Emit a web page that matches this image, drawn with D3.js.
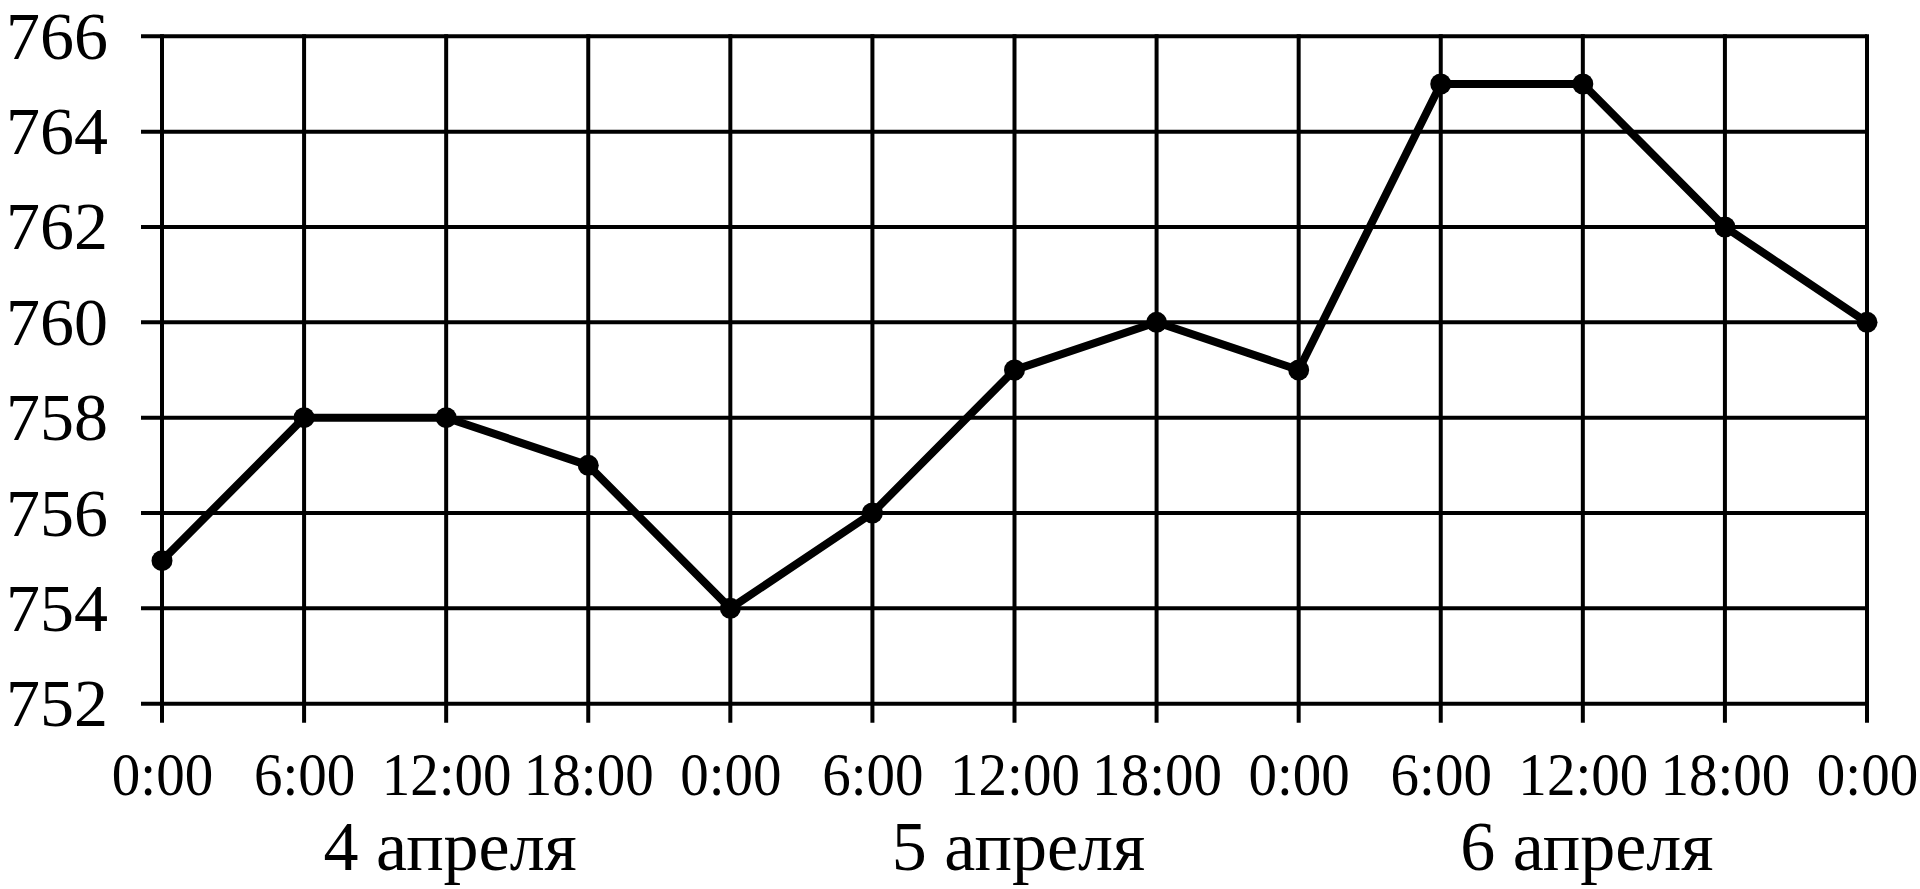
<!DOCTYPE html>
<html>
<head>
<meta charset="utf-8">
<script src="https://cdn.jsdelivr.net/npm/d3@7"></script>
<style>
  html, body { margin: 0; padding: 0; background: #fff; }
  svg { display: block; }
</style>
</head>
<body>
<svg id="chart" width="1920" height="889"></svg>
<script>
// ---- Dados
const timeLabels = ['0:00', '6:00', '12:00', '18:00', '0:00', '6:00', '12:00', '18:00', '0:00', '6:00', '12:00', '18:00', '0:00'];
const pressure   = [755, 758, 758, 757, 754, 756, 759, 760, 759, 765, 765, 762, 760];
const yTicks     = [752, 754, 756, 758, 760, 762, 764, 766];
const days       = ['4 апреля', '5 апреля', '6 апреля'];
const dayCenters = [2, 6, 10]; // 12:00 de cada dia

const svg = d3.select('#chart');
const font = '"Liberation Serif", "Times New Roman", serif';

// ---- Escalas
const x = d3.scaleLinear().domain([0, timeLabels.length - 1]).range([162, 1867]);
const y = d3.scaleLinear().domain([752, 766]).range([703.7, 36.3]);

// ---- Grade
svg.append('g')
    .selectAll('line')
    .data(yTicks)
    .join('line')
    .attr('x1', 141)
    .attr('x2', x.range()[1])
    .attr('y1', d => y(d))
    .attr('y2', d => y(d))
    .attr('stroke', '#000')
    .attr('stroke-width', 4);

svg.append('g')
    .selectAll('line')
    .data(d3.range(timeLabels.length))
    .join('line')
    .attr('x1', d => x(d))
    .attr('x2', d => x(d))
    .attr('y1', y(766) - 2)
    .attr('y2', y(752) + 19)
    .attr('stroke', '#000')
    .attr('stroke-width', 4);

// ---- Eixo Y (rótulos)
const yAxis = d3.axisLeft(y).tickValues(yTicks).tickSize(0).tickPadding(0);
svg.append('g')
    .attr('transform', 'translate(108, 0)')
    .call(yAxis)
    .call(g => g.select('.domain').remove())
    .call(g => g.selectAll('text')
        .attr('x', 0)
        .attr('dy', 22)
        .attr('fill', '#000')
        .style('font-family', font)
        .style('font-size', '68px'));

// ---- Eixo X (horas)
const xAxis = d3.axisBottom(x)
    .tickValues(d3.range(timeLabels.length))
    .tickFormat(i => timeLabels[i])
    .tickSize(0)
    .tickPadding(0);
svg.append('g')
    .attr('transform', 'translate(0, 795)')
    .call(xAxis)
    .call(g => g.select('.domain').remove())
    .call(g => g.selectAll('text')
        .attr('y', 0)
        .attr('dy', 0)
        .attr('fill', '#000')
        .attr('transform', 'scale(0.92, 1)')
        .style('font-family', font)
        .style('font-size', '62px'));

// ---- Dias
svg.append('g')
    .selectAll('text')
    .data(days)
    .join('text')
    .attr('x', (d, i) => x(dayCenters[i]) + 4)
    .attr('y', 870)
    .attr('text-anchor', 'middle')
    .attr('fill', '#000')
    .style('font-family', font)
    .style('font-size', '70px')
    .text(d => d);

// ---- Linha
const line = d3.line()
    .x((d, i) => x(i))
    .y(d => y(d));

svg.append('path')
    .datum(pressure)
    .attr('d', line)
    .attr('fill', 'none')
    .attr('stroke', '#000')
    .attr('stroke-width', 8)
    .attr('stroke-linejoin', 'round');

svg.append('g')
    .selectAll('circle')
    .data(pressure)
    .join('circle')
    .attr('cx', (d, i) => x(i))
    .attr('cy', d => y(d))
    .attr('r', 10.5)
    .attr('fill', '#000');
</script>
</body>
</html>
